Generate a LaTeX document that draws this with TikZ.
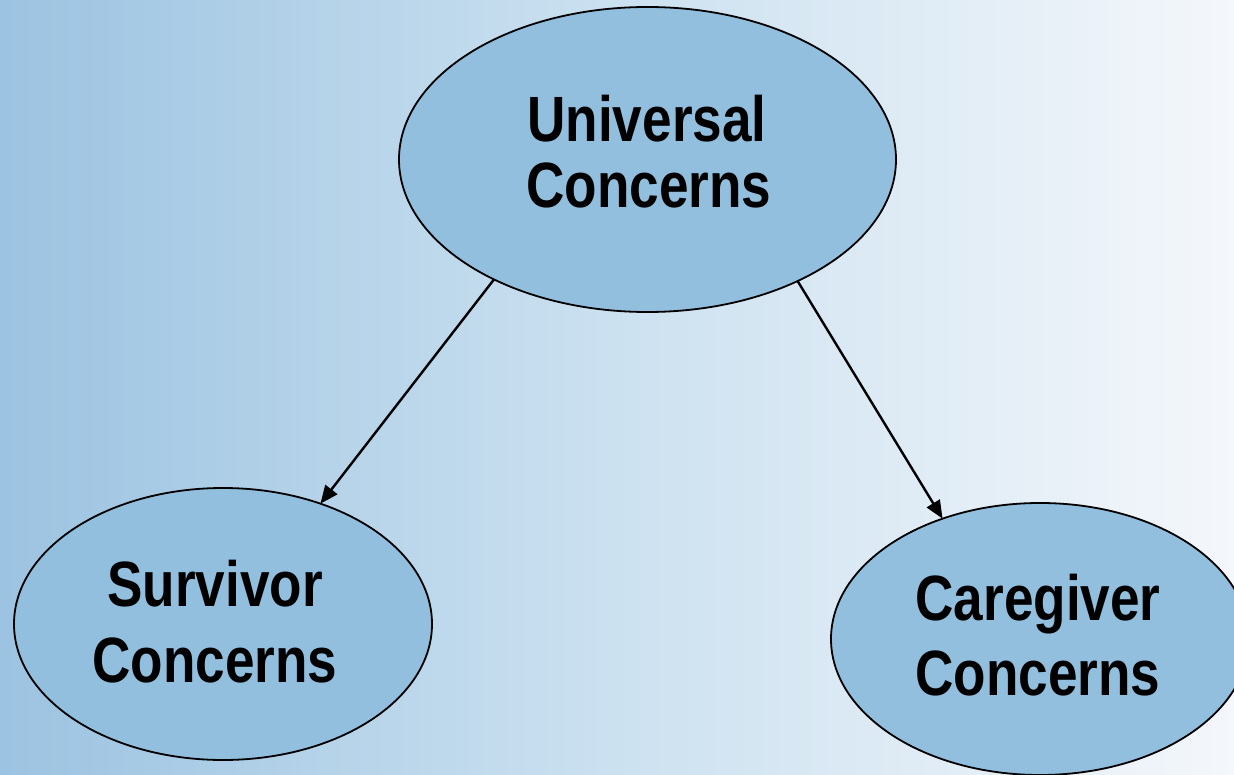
\documentclass[tikz,border=0pt]{standalone}
\usepackage{fontspec}
\usepackage{graphicx}
\setmainfont{Liberation Sans}
\usetikzlibrary{shapes.geometric,arrows.meta}
\definecolor{bgA}{HTML}{9CC3E1}
\definecolor{bgB}{HTML}{CCE1F0}
\definecolor{bgC}{HTML}{F4F7FB}
\definecolor{ellfill}{HTML}{93BFDF}
\tikzset{
  conc/.style={ellipse, draw=black, line width=1.8pt, fill=ellfill, inner sep=0pt, outer sep=0pt},
  lbl/.style={anchor=base, inner sep=0pt, font=\fontsize{64}{66}\selectfont\bfseries},
  arr/.style={-{Triangle[length=18pt,width=15pt]}, line width=2.4pt}
}
\newcommand{\nar}[1]{\scalebox{0.83}[1]{#1}}
\begin{document}
\begin{tikzpicture}[x=1pt,y=-1pt]
\useasboundingbox (0,0) rectangle (1234,775);
\shade[left color=bgA, right color=bgC, middle color=bgB] (0,0) rectangle (1234,775);
\begin{scope}
\clip (0,0) rectangle (1234,775);
\node[conc, minimum width=497pt, minimum height=305pt] (top) at (647.5,159.5) {};
\node[conc, minimum width=418pt, minimum height=272pt] (left) at (223,624) {};
\node[conc, minimum width=418pt, minimum height=272pt] (right) at (1040,639) {};
\end{scope}
\node[lbl] (t1) at (647,142) {\nar{Universal}};
\node[lbl] (t2) at (649,208) {\nar{Concerns}};
\node[lbl] (l1) at (215,606) {\nar{Survivor}};
\node[lbl] (l2) at (215,682) {\nar{Concerns}};
\node[lbl] (r1) at (1038,620) {\nar{Caregiver}};
\node[lbl] (r2) at (1038,695) {\nar{Concerns}};
\draw[arr] (top.218.4) -- (left.51.5);
\draw[arr] (top.321.2) -- (right.129);
\end{tikzpicture}
\end{document}
